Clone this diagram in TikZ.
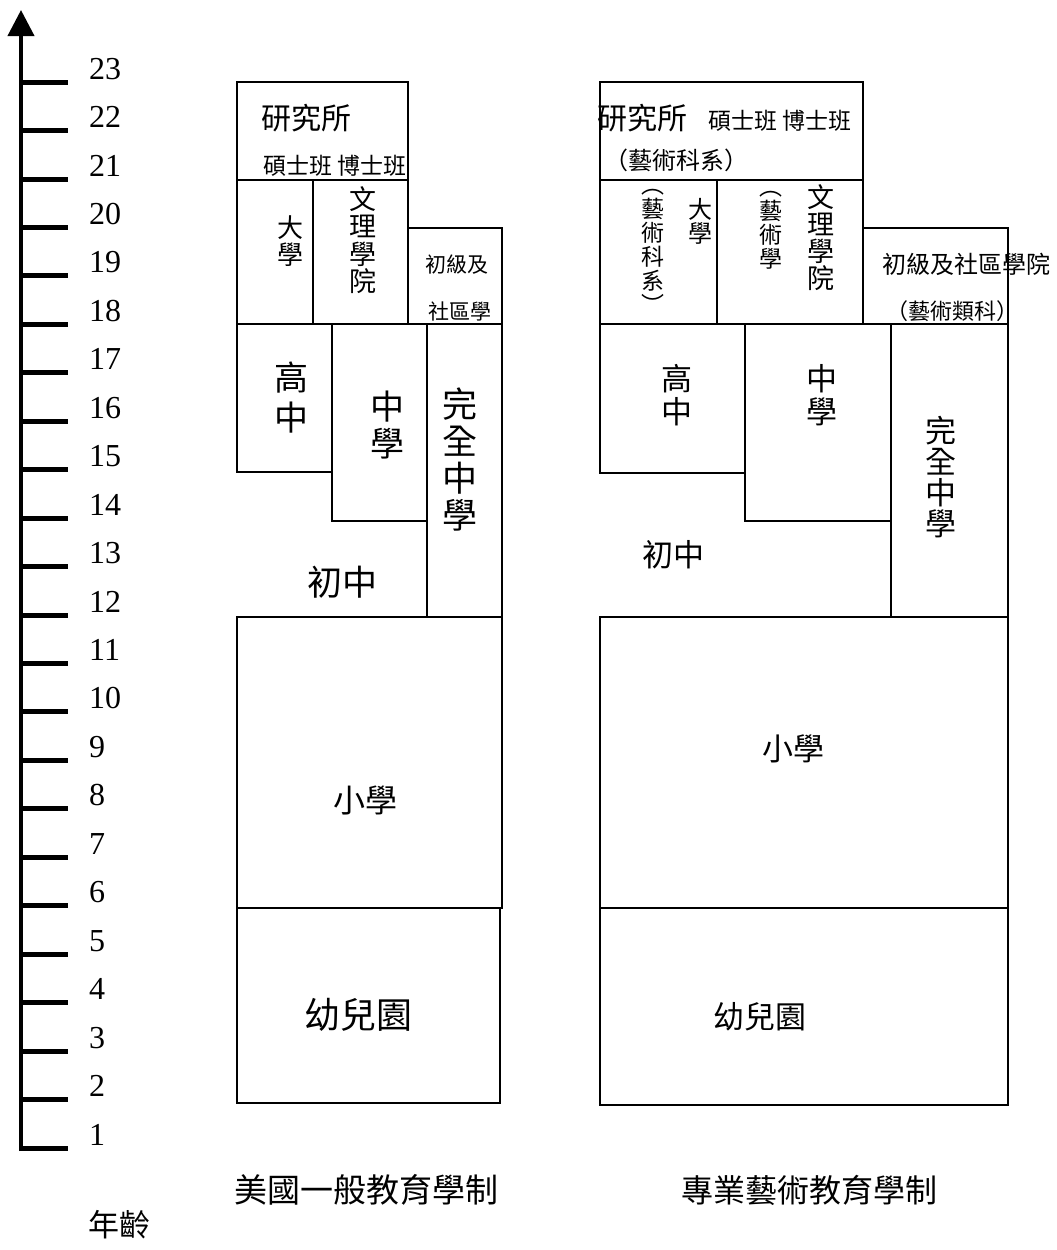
\documentclass[tikz,border=0pt]{standalone}
\usepackage{fontspec}
\setmainfont{Liberation Serif}
\newfontfamily\cjk{Noto Sans CJK TC}
\usetikzlibrary{arrows.meta}
\newcommand{\stagebox}[5]{\node[stage, minimum width={(#4)-(#2)}, minimum height={(#5)-(#3)}] (#1) at (#2,#3) {};}
\tikzset{
    stage/.style={draw, line width=2.7pt, anchor=north west, inner sep=0pt, outer sep=0pt},
    word/.style={font=\cjk\fontsize{#1}{#1}\selectfont, inner sep=0pt, align=center},
    column/.style 2 args={font=\cjk\fontsize{#1}{#2}\selectfont, inner sep=0pt, align=center},
    ageline/.style={line width=4pt},
    agetick/.style={line width=5pt},
    agenum/.style={font=\fontsize{32}{32}\selectfont, anchor=base west, inner sep=0pt}
}

\begin{document}
\begin{tikzpicture}[x=1pt, y=-1pt]
    \useasboundingbox (0,0) rectangle (1057,1250);

    % age axis
    \coordinate (axisfoot) at (21,1151);
    \coordinate (axishead) at (21,10);
    \draw[ageline, -{Triangle[width=26pt,length=26pt]}] (axisfoot) -- (axishead);
    \foreach \a in {1,...,23}{
        \pgfmathsetmacro{\ty}{1148-(\a-1)*48.45}
        \draw[agetick] (19,\ty) -- (68,\ty);
        \node[agenum] (age\a) at (89,\ty-3) {\a};
    }
    \node[word=31] (agecap) at (119,1225) {年齡};

    % general system
    \stagebox{gradL}{237}{82}{408}{180}
    \stagebox{univL}{237}{180}{313}{324}
    \stagebox{collL}{313}{180}{408}{324}
    \stagebox{commL}{408}{228}{502}{324}
    \stagebox{highL}{237}{324}{332}{472}
    \stagebox{midL}{332}{324}{427}{521}
    \stagebox{fullL}{427}{324}{502}{617}
    \stagebox{primL}{237}{617}{502}{908}
    \stagebox{kindL}{237}{908}{500}{1103}

    \node[word=30] at (306,118) {研究所};
    \node[word=23] at (335,166) {碩士班 博士班};
    \node[column={26}{27}] at (290,241) {大\\學};
    \node[column={27}{27.5}] at (363,240) {文\\理\\學\\院};
    \node[word=21] at (457,265) {初級及};
    \node[word=21] at (460,311) {社區學};
    \node[column={34}{40}] at (291,398) {高\\中};
    \node[column={34}{37}] at (387,425) {中\\學};
    \node[column={35}{37}] at (460,460) {完\\全\\中\\學};
    \node[word=35] at (342,582) {初中};
    \node[word=32] at (365,800) {小學};
    \node[word=36] at (358,1015) {幼兒園};
    \node[word=33] (capL) at (366,1190) {美國一般教育學制};

    % art system
    \stagebox{gradR}{600}{82}{863}{180}
    \stagebox{univR}{600}{180}{717}{324}
    \stagebox{collR}{717}{180}{863}{324}
    \stagebox{commR}{863}{228}{1008}{324}
    \stagebox{highR}{600}{324}{745}{473}
    \stagebox{midR}{745}{324}{891}{521}
    \stagebox{fullR}{891}{324}{1008}{617}
    \stagebox{primR}{600}{617}{1008}{908}
    \stagebox{kindR}{600}{908}{1008}{1105}

    \node[word=30] at (642,118) {研究所};
    \node[word=23] at (780,121) {碩士班 博士班};
    \node[word=24] at (676,160) {（藝術科系）};
    \node[column={23}{24}] at (653,251) {︵\\藝\\術\\科\\系\\︶};
    \node[column={24}{24}] at (700,221) {大\\學};
    \node[column={23}{24}] at (771,230) {︵\\藝\\術\\學};
    \node[column={27}{27}] at (821,238) {文\\理\\學\\院};
    \node[word=24] at (966,264) {初級及社區學院};
    \node[word=22] at (952,311) {（藝術類科）};
    \node[column={31}{33}] at (677,395) {高\\中};
    \node[column={31}{33}] at (822,395) {中\\學};
    \node[column={31}{31}] at (941,477) {完\\全\\中\\學};
    \node[word=31] at (673,555) {初中};
    \node[word=31] at (793,749) {小學};
    \node[word=31] at (760,1017) {幼兒園};
    \node[word=32] (capR) at (809,1190) {專業藝術教育學制};
\end{tikzpicture}
\end{document}
